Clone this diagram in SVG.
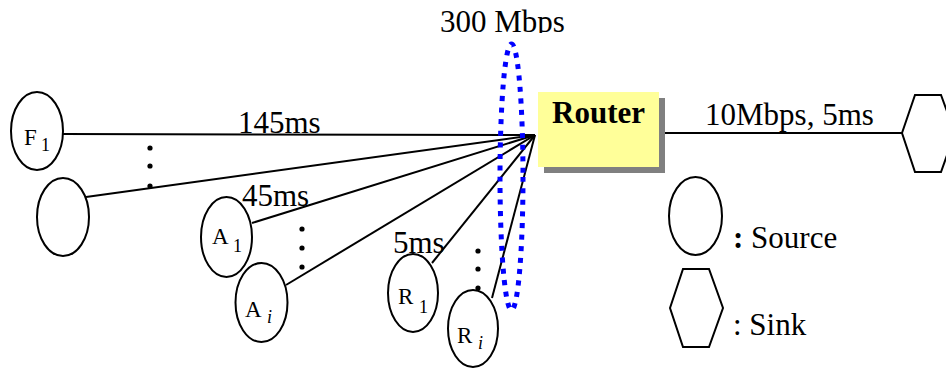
<svg xmlns="http://www.w3.org/2000/svg" width="946" height="368" viewBox="0 0 946 368">
<defs>
<style>
.n{fill:#fff;stroke:#000;stroke-width:2}
.l{stroke:#000;stroke-width:2;fill:none}
.t{font-size:31px;fill:#000}
.s{font-size:23px;fill:#000}
.sub{font-size:18px;fill:#000}
.d{fill:#000}
</style>
<clipPath id="clipTop"><rect x="0" y="0" width="946" height="33"/></clipPath>
</defs>
<g id="connectors">
<line class="l" x1="63" y1="134" x2="535" y2="135"/>
<line class="l" x1="86" y1="197" x2="535" y2="135"/>
<line class="l" x1="252" y1="223" x2="535" y2="135"/>
<line class="l" x1="286" y1="285" x2="535" y2="135"/>
<line class="l" x1="432" y1="263" x2="535" y2="135"/>
<line class="l" x1="492" y1="298" x2="535" y2="135"/>
<line class="l" x1="662" y1="133" x2="902" y2="133"/>
</g>
<g font-family="'Liberation Serif', 'Times New Roman', Times, serif">
<g id="link-labels">
<text class="t" x="238" y="133">145ms</text>
<text class="t" x="242" y="206">45ms</text>
<text class="t" x="393" y="253">5ms</text>
<text class="t" x="705" y="125">10Mbps, 5ms</text>
<text class="t" x="440" y="32" clip-path="url(#clipTop)">300 Mbps</text>
</g>
<g id="dots">
<circle class="d" cx="150" cy="148" r="2.6"/><circle class="d" cx="150" cy="166" r="2.6"/><circle class="d" cx="150" cy="186" r="2.6"/>
<circle class="d" cx="302" cy="229" r="2.6"/><circle class="d" cx="302" cy="248" r="2.6"/><circle class="d" cx="302" cy="267" r="2.6"/>
<circle class="d" cx="478" cy="251" r="2.6"/><circle class="d" cx="478" cy="269" r="2.6"/><circle class="d" cx="478" cy="288" r="2.6"/>
</g>
<g id="bottleneck">
<ellipse cx="511.5" cy="177" rx="11.5" ry="133" fill="none" stroke="#0000FF" stroke-width="5" stroke-dasharray="5 6.5"/>
</g>
<g id="F1">
<ellipse class="n" cx="37" cy="131" rx="26" ry="39"/>
<text class="s" x="24" y="145">F</text><text class="sub" x="41" y="151">1</text>
</g>
<g id="Fn">
<ellipse class="n" cx="63" cy="217" rx="26" ry="39"/>
</g>
<g id="A1">
<ellipse class="n" cx="226.5" cy="237" rx="25.5" ry="40"/>
<text class="s" x="212" y="244">A</text><text class="sub" x="233" y="252">1</text>
</g>
<g id="Ai">
<ellipse class="n" cx="261.5" cy="302.5" rx="26" ry="39.5"/>
<text class="s" x="245" y="317">A</text><text class="sub" x="267" y="323" font-style="italic">i</text>
</g>
<g id="R1">
<ellipse class="n" cx="413" cy="293" rx="25" ry="39"/>
<text class="s" x="398" y="304">R</text><text class="sub" x="419" y="313">1</text>
</g>
<g id="Ri">
<ellipse class="n" cx="473" cy="328.5" rx="25" ry="38.5"/>
<text class="s" x="457" y="343">R</text><text class="sub" x="478" y="349" font-style="italic">i</text>
</g>
<g id="router">
<rect x="544" y="98" width="121" height="75" fill="#808080"/>
<rect x="538" y="92" width="121" height="75" fill="#FFFF99"/>
<text class="t" x="552" y="123" font-weight="bold">Router</text>
</g>
<g id="sink">
<polygon class="n" points="902,133 915,95 941,95 955,133 941,172 915,172"/>
</g>
<g id="legend">
<ellipse class="n" cx="695.5" cy="216" rx="26.5" ry="39"/>
<text class="t" x="733" y="248"><tspan font-weight="bold">:</tspan> Source</text>
<polygon class="n" points="670,308 683,269 709,269 723,308 709,347 683,347"/>
<text class="t" x="733" y="335">: Sink</text>
</g>
</g>
</svg>
